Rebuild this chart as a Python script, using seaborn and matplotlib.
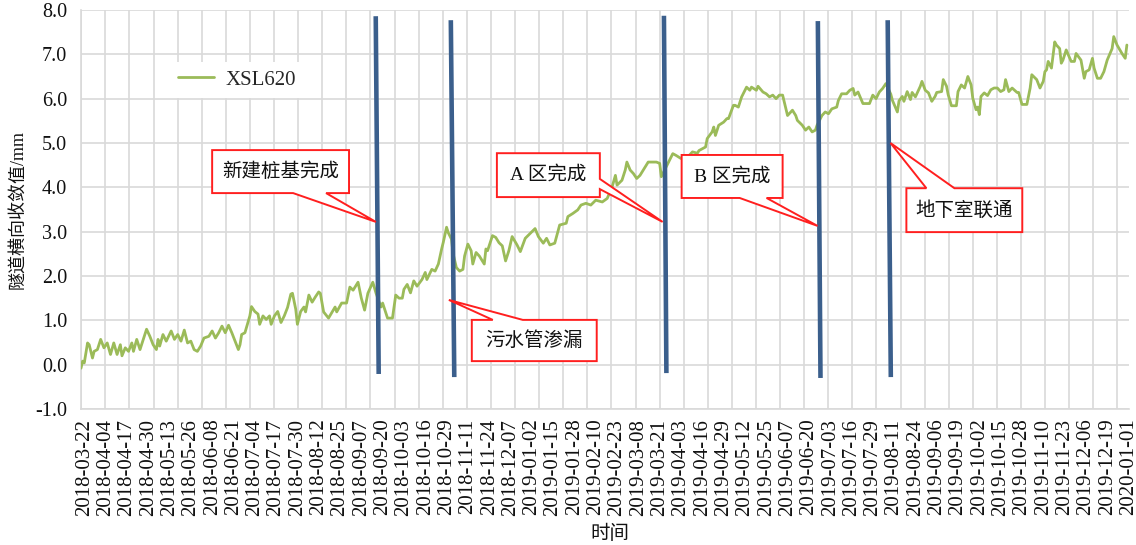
import numpy as np
import pandas as pd
import matplotlib
matplotlib.use("Agg")
import matplotlib.pyplot as plt
from matplotlib.patches import Polygon
from matplotlib.ticker import FormatStrFormatter
import seaborn as sns

# ---------------------------------------------------------------- data
# observation number along the category axis and transverse convergence (mm)
obs = [0, 1, 2, 4, 5, 7, 8, 10, 12, 14, 16, 18, 20, 22, 24, 25, 27, 29, 31, 32, 34, 36, 38, 40, 42, 44, 46,
       47, 48, 50, 52, 55, 57, 59, 61, 63, 65, 67, 69, 71, 73, 75, 78, 80, 82, 84, 86, 88, 90, 92, 94, 96,
       97, 98, 100, 103, 104, 106, 108, 109, 111, 113, 115, 116, 118, 120, 122, 124, 126, 128, 129, 131, 132,
       134, 136, 137, 139, 141, 143, 145,
       146, 148, 151, 155, 156, 159, 162, 164, 166, 169, 171, 173, 175, 178, 180, 183, 184, 187, 190, 192, 194, 196,
       197, 199, 201, 203, 205, 208, 210, 211, 214, 216, 218, 220, 221, 223, 224, 226, 227, 229, 231, 233, 234,
       236, 238, 239, 241, 243, 246, 247,
       248, 251, 253, 255, 257, 259, 261, 263, 266, 268, 271, 274, 277, 279, 282, 284, 286, 289, 292, 296, 297,
       300, 303, 305, 308, 311, 314, 318, 321, 324, 326, 327, 330, 332, 333, 335, 337, 339, 341, 343, 346,
       348, 351, 353, 354, 358, 361, 363, 366, 370, 373, 376, 377, 381, 382, 385, 386, 387, 389, 392, 394, 395, 398,
       399, 401, 403, 406, 408, 409, 412, 413, 416, 418, 420, 422, 424, 426, 428, 430, 431, 434, 436, 437, 440,
       442, 444, 446, 448,
       449, 452, 454, 456, 458, 461, 462, 464, 467, 469, 471, 472, 474, 477, 479, 481, 483, 485, 487, 489, 491,
       492, 494, 495, 498,
       499, 501, 502, 504, 506, 507, 509, 512, 513, 515, 517, 519, 521, 522, 525, 526, 528, 529, 531, 534, 535,
       537, 539, 541, 543, 544, 546, 547,
       548, 549, 551, 553, 555, 557, 559, 561, 563, 564, 566, 568, 571, 572, 574, 577, 579, 580, 583, 585, 587,
       588, 589, 590, 592, 594, 595, 597, 598,
       599, 601, 604, 606, 607, 610, 612, 613, 615, 617, 618, 620, 622, 624, 626, 629, 630, 632, 635, 637, 638]

xsl620 = [-0.08, 0.08, 0.04, 0.49, 0.45, 0.15, 0.30, 0.34, 0.57, 0.38, 0.49, 0.23, 0.49, 0.23, 0.45, 0.20, 0.38,
          0.30, 0.49, 0.30, 0.57, 0.34, 0.57, 0.80, 0.64, 0.45, 0.34,
          0.57, 0.42, 0.68, 0.53, 0.76, 0.57, 0.68, 0.53, 0.78, 0.49, 0.53, 0.34, 0.30, 0.42, 0.60, 0.64, 0.76,
          0.60, 0.72, 0.87, 0.72, 0.89, 0.72, 0.53, 0.34,
          0.45, 0.68, 0.72, 1.10, 1.31, 1.20, 1.14, 0.91, 1.10, 1.02, 1.10, 0.91, 1.10, 1.20, 0.95, 1.10, 1.29,
          1.59, 1.61, 1.25, 0.91, 1.20, 1.30, 1.19, 1.57, 1.41, 1.53, 1.64,
          1.61, 1.19, 1.05, 1.30, 1.19, 1.39, 1.39, 1.75, 1.68, 1.86, 1.50, 1.23, 1.61, 1.86, 1.61, 1.30, 1.39,
          1.05, 1.05, 1.57, 1.50, 1.50,
          1.70, 1.81, 1.62, 1.89, 1.77, 1.92, 2.08, 1.92, 2.15, 2.11, 2.27, 2.61, 2.76, 3.10, 2.98, 2.83, 2.50,
          2.19, 2.11, 2.15, 2.45, 2.72, 2.57, 2.27, 2.53, 2.45, 2.27, 2.61,
          2.57, 2.91, 2.87, 2.75, 2.68, 2.34, 2.57, 2.89, 2.70, 2.55, 2.85, 2.96, 3.07, 2.89, 2.74, 2.85, 2.70,
          2.74, 3.15, 3.19, 3.34,
          3.41, 3.49, 3.60, 3.64, 3.60, 3.71, 3.67, 3.75, 4.01, 4.27, 4.05, 4.16, 4.39, 4.57, 4.39, 4.31, 4.20,
          4.27, 4.39, 4.57,
          4.57, 4.57, 4.54, 4.24, 4.54, 4.76, 4.72, 4.65, 4.68, 4.80, 4.77, 4.83, 4.91, 5.10, 5.25, 5.36, 5.17,
          5.40, 5.47, 5.55, 5.55, 5.85,
          5.85, 5.81, 6.04, 6.26, 6.19, 6.26, 6.19, 6.28, 6.15, 6.11, 6.04, 6.08, 6.00, 6.08, 6.08, 5.77, 5.62,
          5.74, 5.62, 5.51, 5.40, 5.29, 5.36, 5.25, 5.29,
          5.40, 5.62, 5.70, 5.66, 5.77, 5.81, 5.96, 6.11, 6.11, 6.19, 6.23, 6.08, 6.15, 5.89, 5.89, 5.89, 6.08,
          6.00, 6.15, 6.23, 6.34, 6.26, 6.10, 5.96, 5.70,
          5.95, 6.05, 5.94, 6.16, 5.98, 6.14, 6.04, 6.28, 6.39, 6.19, 6.13, 5.94, 6.05, 6.14, 6.16, 6.43, 6.28,
          6.09, 5.84, 5.84, 6.16, 6.31, 6.24, 6.50, 6.31, 6.01, 5.75, 5.81,
          5.64, 6.05, 6.13, 6.07, 6.20, 6.24, 6.24, 6.16, 6.20, 6.43, 6.16, 6.24, 6.14, 6.14, 5.87, 5.87, 6.24,
          6.54, 6.43, 6.24, 6.39, 6.61, 6.65, 6.84, 6.69, 7.28, 7.21, 7.13, 6.80,
          6.87, 7.10, 6.84, 6.84, 7.02, 6.87, 6.46, 6.61, 6.65, 6.91, 6.69, 6.46, 6.46, 6.61, 6.87, 7.13, 7.40,
          7.21, 7.02, 6.91, 7.21]

# date labels, one every 13 observations
tick_dates = ["2018-03-22", "2018-04-04", "2018-04-17", "2018-04-30", "2018-05-13", "2018-05-26",
              "2018-06-08", "2018-06-21", "2018-07-04", "2018-07-17", "2018-07-30", "2018-08-12",
              "2018-08-25", "2018-09-07", "2018-09-20", "2018-10-03", "2018-10-16", "2018-10-29",
              "2018-11-11", "2018-11-24", "2018-12-07", "2019-01-02", "2019-01-15", "2019-01-28",
              "2019-02-10", "2019-02-23", "2019-03-08", "2019-03-21", "2019-04-03", "2019-04-16",
              "2019-04-29", "2019-05-12", "2019-05-25", "2019-06-07", "2019-06-20", "2019-07-03",
              "2019-07-16", "2019-07-29", "2019-08-11", "2019-08-24", "2019-09-06", "2019-09-19",
              "2019-10-02", "2019-10-15", "2019-10-28", "2019-11-10", "2019-11-23", "2019-12-06",
              "2019-12-19", "2020-01-01"]
first_tick_obs = 2
tick_every = 13

# construction events: marker line ends (observation, value)
event_obs_top = [179.8, 225.6, 355.6, 449.5, 492.1]
event_obs_bottom = [181.6, 227.7, 357.1, 451.1, 494.0]
event_top = [7.86, 7.77, 7.87, 7.75, 7.77]
event_bottom = [-0.21, -0.28, -0.19, -0.30, -0.28]

# callout labels and the point on each event line they point at
callout_text = ["新建桩基完成", "污水管渗漏", "A 区完成", "B 区完成", "地下室联通"]
callout_tip_obs = [179.9, 224.4, 354.8, 449.3, 493.8]
callout_tip_val = [3.22, 1.46, 3.22, 3.13, 5.00]

# ---------------------------------------------------------------- layout
# box (x0, x1, y0, y1), side the pointer leaves from, pointer base (a, b)
callout_boxes = [
    (80.0, 163.5, 3.87, 4.84, "bottom", 129.4, 149.5),
    (238.4, 314.6, 0.08, 1.01, "top", 251.2, 269.5),
    (253.7, 316.5, 3.78, 4.77, "right", 3.96, 4.19),
    (366.4, 428.0, 3.76, 4.73, "bottom", 401.8, 418.2),
    (503.5, 574.2, 2.99, 3.98, "top", 515.7, 532.8),
]
grid_start, grid_step = 0.17, 14.7
x_range = (0.0, 639.3)

GREEN = "#9BBB59"
BLUE = "#3B5F8C"
RED = "#FF1F1F"
GRID = "#D9D9D9"

sns.set_theme(style="white")
plt.rcParams["font.family"] = ["Liberation Serif", "Noto Sans CJK SC"]
plt.rcParams["axes.unicode_minus"] = False

fig = plt.figure(figsize=(11.36, 5.45), dpi=100)
ax = fig.add_axes([81 / 1136, 1 - 409 / 545, 1048 / 1136, 399 / 545])

df = pd.DataFrame({"obs": obs, "XSL620": xsl620})
sns.lineplot(data=df, x="obs", y="XSL620", color=GREEN, linewidth=2.0, label="XSL620",
             ax=ax, zorder=3)

# event marker lines
for xt, xb, yt, yb in zip(event_obs_top, event_obs_bottom, event_top, event_bottom):
    ax.plot([xt, xb], [yt, yb], color=BLUE, linewidth=3.3, solid_capstyle="butt", zorder=4)


def callout_vertices(x0, x1, y0, y1, side, a, b, tip):
    if side == "bottom":
        return [(x0, y0), (a, y0), tip, (b, y0), (x1, y0), (x1, y1), (x0, y1)]
    if side == "top":
        return [(x0, y0), (x1, y0), (x1, y1), (b, y1), tip, (a, y1), (x0, y1)]
    return [(x0, y0), (x1, y0), (x1, a), tip, (x1, b), (x1, y1), (x0, y1)]


for text, tx, ty, (x0, x1, y0, y1, side, a, b) in zip(callout_text, callout_tip_obs,
                                                       callout_tip_val, callout_boxes):
    verts = callout_vertices(x0, x1, y0, y1, side, a, b, (tx, ty))
    ax.add_patch(Polygon(verts, closed=True, facecolor="white", edgecolor=RED,
                         linewidth=1.4, joinstyle="miter", zorder=6))
    ax.text((x0 + x1) / 2, (y0 + y1) / 2, text, ha="center", va="center",
            fontsize=14, color="#111111", zorder=7)

# axes, ticks and grid
ax.set_xlim(*x_range)
ax.set_ylim(-1.0, 8.0)
ax.set_yticks(np.arange(-1.0, 8.01, 1.0))
ax.yaxis.set_major_formatter(FormatStrFormatter("%.1f"))

tick_pos = [first_tick_obs + tick_every * i for i in range(len(tick_dates))]
ax.set_xticks(tick_pos)
ax.set_xticklabels(tick_dates, rotation=90)
ax.set_xticks(np.arange(grid_start, x_range[1], grid_step), minor=True)

ax.grid(False)
ax.grid(True, which="minor", axis="x", color=GRID, linewidth=1.2)
ax.grid(True, which="major", axis="y", color=GRID, linewidth=1.2)
ax.set_axisbelow(True)

ax.tick_params(axis="x", which="major", length=0, pad=7, labelsize=15, colors="#111111")
ax.tick_params(axis="x", which="minor", length=0)
ax.tick_params(axis="y", length=0, pad=10, labelsize=14.5, colors="#111111")

for side in ("top", "right"):
    ax.spines[side].set_visible(False)
for side in ("left", "bottom"):
    ax.spines[side].set_color(GRID)
    ax.spines[side].set_linewidth(1.2)

ax.set_ylabel("隧道横向收敛值/mm", fontsize=13, labelpad=6, color="#111111")
ax.set_xlabel("时间", fontsize=14, color="#111111")
ax.xaxis.set_label_coords(0.505, -0.29)

leg = ax.legend(loc="upper left", bbox_to_anchor=(0.085, 0.87), frameon=True,
                facecolor="white", edgecolor="none", framealpha=1, fancybox=False,
                fontsize=15, handlelength=1.7, handletextpad=0.55, borderpad=0.4,
                borderaxespad=0)
leg.set_zorder(5)

fig.savefig("out.png", dpi=100)
